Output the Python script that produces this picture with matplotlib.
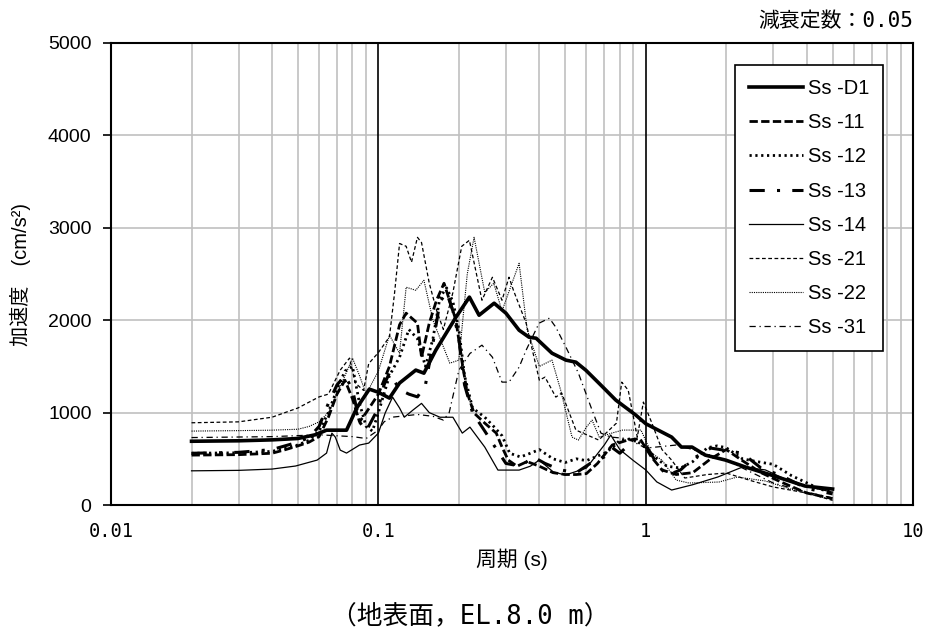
import numpy as np
import matplotlib.pyplot as plt
from matplotlib.ticker import LogLocator, NullFormatter

plt.rcParams['font.family'] = ['Liberation Sans', 'Noto Sans CJK JP', 'DejaVu Sans']
jp = ['Liberation Sans', 'Noto Sans CJK JP', 'DejaVu Sans']
mono = ['DejaVu Sans Mono', 'Noto Sans CJK JP']

# periods (s) and acceleration (cm/s2)
t_d1 = [0.02, 0.03, 0.04, 0.05, 0.058, 0.064, 0.076, 0.083, 0.0925, 0.1, 0.11, 0.12, 0.138, 0.148,
        0.164, 0.195, 0.219, 0.238, 0.271, 0.30, 0.336, 0.366, 0.389, 0.446, 0.503, 0.548, 0.597,
        0.668, 0.773, 0.918, 1.0, 1.25, 1.36, 1.49, 1.67, 1.99, 2.36, 2.95, 3.95, 5.0]
a_d1 = [690, 695, 705, 720, 760, 810, 810, 1050, 1254, 1220, 1157, 1320, 1460, 1427,
        1676, 2032, 2250, 2054, 2184, 2076, 1892, 1816, 1805, 1643, 1568, 1546, 1459,
        1319, 1135, 973, 880, 735, 627, 627, 540, 486, 411, 324, 205, 173]

t_11 = [0.02, 0.03, 0.04, 0.045, 0.05, 0.055, 0.06, 0.065, 0.07, 0.075, 0.08, 0.085, 0.09, 0.1,
        0.11, 0.12, 0.127, 0.14, 0.145, 0.155, 0.165, 0.176, 0.195, 0.205, 0.215, 0.228, 0.25,
        0.276, 0.29, 0.306, 0.33, 0.36, 0.4, 0.45, 0.5, 0.55, 0.6, 0.66, 0.75, 0.85, 0.95, 1.05,
        1.15, 1.3, 1.5, 1.75, 2.0, 2.3, 2.7, 3.2, 4.0, 5.0]
a_11 = [540, 545, 560, 600, 640, 680, 740, 950, 1200, 1350, 1150, 900, 1000, 1200,
        1500, 1950, 2076, 1968, 1600, 1968, 2216, 2400, 2000, 1568, 1211, 995, 886,
        778, 627, 486, 420, 470, 420, 350, 330, 330, 340, 450, 650, 700, 720, 520,
        380, 330, 350, 500, 600, 480, 350, 250, 130, 70]

t_12 = [0.02, 0.03, 0.04, 0.05, 0.055, 0.06, 0.065, 0.07, 0.075, 0.08, 0.085, 0.09, 0.095, 0.1,
        0.11, 0.12, 0.13, 0.14, 0.15, 0.16, 0.17, 0.18, 0.19, 0.2, 0.21, 0.225, 0.25, 0.27, 0.29,
        0.31, 0.34, 0.37, 0.4, 0.45, 0.5, 0.55, 0.6, 0.7, 0.75, 0.8, 0.9, 1.0, 1.1, 1.2, 1.35,
        1.5, 1.7, 1.85, 2.0, 2.3, 2.6, 3.0, 3.5, 4.0, 4.5, 5.0]
a_12 = [560, 565, 580, 650, 700, 800, 1000, 1250, 1450, 1500, 1100, 850, 800, 1000,
        1400, 1600, 1900, 1800, 1500, 1800, 2250, 2350, 2200, 1900, 1400, 1050, 950, 850, 750,
        560, 520, 560, 600, 500, 460, 500, 480, 560, 620, 700, 720, 620, 500, 420, 400,
        470, 620, 640, 620, 500, 470, 440, 320, 240, 170, 140]

t_13 = [0.02, 0.03, 0.04, 0.05, 0.055, 0.06, 0.065, 0.07, 0.075, 0.08, 0.085, 0.09, 0.1, 0.105,
        0.11, 0.12, 0.13, 0.14, 0.15, 0.16, 0.17, 0.18, 0.19, 0.2, 0.21, 0.225, 0.25, 0.27, 0.3,
        0.34, 0.38, 0.42, 0.48, 0.55, 0.62, 0.7, 0.75, 0.8, 0.9, 1.0, 1.1, 1.2, 1.35, 1.5, 1.75,
        2.0, 2.3, 2.7, 3.2, 4.0, 5.0]
a_13 = [560, 570, 600, 680, 730, 850, 1100, 1300, 1400, 1250, 900, 800, 1050, 1300,
        1430, 1250, 1200, 1170, 1300, 1750, 2200, 2300, 2100, 1800, 1300, 1000, 800, 650, 450,
        420, 520, 450, 380, 350, 450, 520, 620, 560, 700, 650, 450, 320, 380, 500, 616,
        590, 560, 400, 320, 180, 120]

t_14 = [0.02, 0.03, 0.04, 0.049, 0.059, 0.064, 0.067, 0.069, 0.072, 0.076, 0.085, 0.092, 0.1,
        0.106, 0.113, 0.12, 0.125, 0.135, 0.145, 0.155, 0.17, 0.19, 0.206, 0.22, 0.25, 0.28,
        0.336, 0.37, 0.4, 0.45, 0.5, 0.6, 0.7, 0.74, 0.8, 0.9, 1.0, 1.1, 1.25, 1.5, 1.86, 2.3,
        2.8, 3.5, 4.3, 5.0]
a_14 = [370, 375, 389, 422, 486, 562, 778, 735, 594, 562, 649, 670, 778,
        995, 1168, 1050, 950, 1030, 1100, 1000, 950, 950, 778, 843, 627, 378,
        378, 420, 486, 360, 324, 400, 650, 757, 600, 480, 380, 250, 162, 220, 303, 411,
        380, 250, 180, 140]

t_21 = [0.02, 0.03, 0.04, 0.05, 0.06, 0.065, 0.072, 0.078, 0.082, 0.088, 0.092, 0.1, 0.11,
        0.115, 0.12, 0.127, 0.133, 0.14, 0.145, 0.155, 0.165, 0.175, 0.19, 0.205, 0.219, 0.244,
        0.267, 0.29, 0.308, 0.32, 0.357, 0.4, 0.42, 0.461, 0.485, 0.548, 0.667, 0.777, 0.813,
        0.86, 0.93, 0.98, 1.05, 1.15, 1.25, 1.4, 1.7, 2.0, 2.5, 3.0, 4.0, 5.0]
a_21 = [890, 900, 950, 1050, 1170, 1200, 1460, 1590, 1320, 1240, 1530, 1650, 1820,
        2300, 2830, 2800, 2627, 2897, 2840, 2400, 2108, 1900, 2300, 2800, 2865, 2216,
        2465, 2216, 2465, 2324, 1968, 1351, 1384, 1168, 1211, 811, 703, 886, 1330,
        1243, 735, 1114, 900, 600, 486, 292, 330, 346, 260, 195, 130, 50]

t_22 = [0.02, 0.03, 0.04, 0.05, 0.055, 0.06, 0.065, 0.07, 0.075, 0.08, 0.085, 0.09, 0.1, 0.11,
        0.12, 0.127, 0.138, 0.148, 0.16, 0.185, 0.2, 0.215, 0.228, 0.25, 0.27, 0.29, 0.336,
        0.36, 0.4, 0.446, 0.48, 0.53, 0.56, 0.6, 0.63, 0.67, 0.75, 0.82, 0.96, 1.05, 1.15, 1.3,
        1.45, 1.88, 2.2, 2.8, 3.5, 5.0]
a_22 = [800, 805, 810, 820, 850, 900, 1000, 1200, 1400, 1590, 1400, 1200, 1450, 1838,
        1643, 2357, 2324, 2432, 2000, 1535, 1568, 2500, 2897, 2300, 2400, 2100, 2616,
        1900, 1500, 1568, 1250, 735, 703, 843, 919, 735, 780, 811, 811, 562, 486, 270,
        238, 249, 303, 260, 170, 60]

t_31 = [0.02, 0.04, 0.06, 0.08, 0.09, 0.1, 0.105, 0.113, 0.14, 0.16, 0.175, 0.184, 0.2, 0.22,
        0.244, 0.267, 0.29, 0.308, 0.336, 0.357, 0.399, 0.436, 0.461, 0.503, 0.56, 0.63, 0.68,
        0.74, 0.85, 1.0, 1.3, 1.5, 2.0, 3.0, 4.0, 5.0]
a_31 = [730, 740, 760, 740, 720, 811, 900, 951, 980, 960, 919, 1000, 1459, 1640,
        1730, 1600, 1330, 1330, 1492, 1676, 1968, 2022, 1924, 1708, 1427, 1027, 778,
        735, 720, 616, 649, 600, 486, 238, 140, 76]

names = ['Ss -D1', 'Ss -11', 'Ss -12', 'Ss -13', 'Ss -14', 'Ss -21', 'Ss -22', 'Ss -31']
periods = [t_d1, t_11, t_12, t_13, t_14, t_21, t_22, t_31]
accels = [a_d1, a_11, a_12, a_13, a_14, a_21, a_22, a_31]

styles = [
    dict(lw=2.6, ls='-'),
    dict(lw=2.0, ls=(0, (3, 1.2))),
    dict(lw=2.0, ls=(0, (0.8, 1.3))),
    dict(lw=2.2, ls=(0, (5, 4, 1, 4))),
    dict(lw=0.9, ls='-'),
    dict(lw=0.9, ls=(0, (3, 2))),
    dict(lw=0.8, ls=(0, (1, 1))),
    dict(lw=0.9, ls=(0, (5, 3, 1, 3))),
]

fig = plt.figure(figsize=(9.3, 6.37), dpi=100)
ax = fig.add_axes([0.1194, 0.2072, 0.8624, 0.7253])

for t, a, name, st in zip(periods, accels, names, styles):
    ax.plot(t, a, color='black', label=name, **st)

ax.set_xscale('log')
ax.set_xlim(0.01, 10)
ax.set_ylim(0, 5000)
ax.set_yticks(np.arange(0, 5001, 1000))

# grid: grey minor lines, black at 0.1 and 1
ax.xaxis.set_minor_locator(LogLocator(base=10, subs=np.arange(2, 10)))
ax.xaxis.set_minor_formatter(NullFormatter())
ax.grid(which='minor', axis='x', color='#c0c0c0', lw=1.2)
ax.grid(which='major', axis='y', color='#c0c0c0', lw=1.2)
for xv in [0.1, 1]:
    ax.axvline(xv, color='black', lw=1.2, zorder=1)
ax.set_axisbelow(True)

ax.set_xticks([0.01, 0.1, 1, 10])
ax.set_xticklabels(['0.01', '0.1', '1', '10'], family=mono)
ax.tick_params(axis='x', which='both', length=0, pad=12, labelsize=13.5)
ax.tick_params(axis='y', length=6, width=1.2, labelsize=14, pad=8)

for sp in ax.spines.values():
    sp.set_linewidth(1.5)

ax.set_xlabel('周期 (s)', family=jp, fontsize=15, labelpad=6)
ax.set_ylabel('加速度\u3000(cm/s²)', family=jp, fontsize=14.5, labelpad=12)

ax.text(1.0, 1.025, '減衰定数：0.05', transform=ax.transAxes, ha='right', va='bottom',
        family=mono, fontsize=15)
fig.text(0.506, 0.031, '（地表面，EL.8.0 m）', ha='center', va='center', family=mono, fontsize=18.5)

leg = ax.legend(loc='upper right', bbox_to_anchor=(0.9626, 0.952), fontsize=14.5,
                handlelength=2.65, handletextpad=0.25, labelspacing=0.75, borderpad=0.7,
                borderaxespad=0, fancybox=False, framealpha=1, edgecolor='black')
leg.get_frame().set_linewidth(1.2)

fig.savefig('out.png', dpi=100)
